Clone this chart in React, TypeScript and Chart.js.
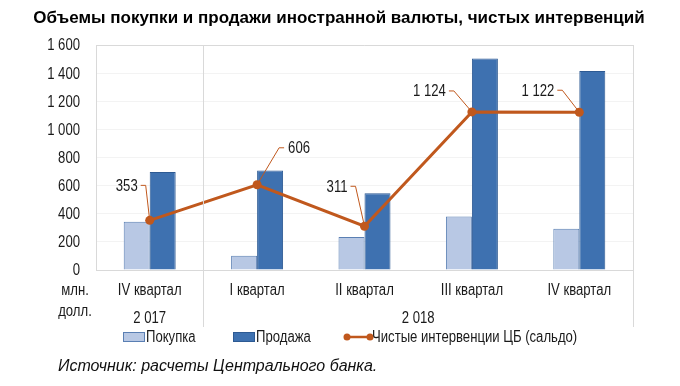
import React, { useEffect, useRef } from "react";
import { Chart, registerables } from "chart.js";

Chart.register(...registerables);

const TITLE = "Объемы покупки и продажи иностранной валюты, чистых интервенций";
const SOURCE = "Источник: расчеты Центрального банка.";
const UNIT = ["млн.", "долл."];
const categories = ["IV квартал", "I квартал", "II квартал", "III квартал", "IV квартал"];
const yearLabels = ["2 017", "2 018"];
const yearSpans = [[0, 0], [1, 4]];
const purchase = [344, 101, 234, 380, 294];
const sale = [697, 707, 545, 1504, 1416];
const net = [353, 606, 311, 1124, 1122];
const seriesNames = ["Покупка", "Продажа", "Чистые интервенции ЦБ (сальдо)"];
const yMax = 1600;
const yStep = 200;

const FONT = "'Liberation Sans', Arial, sans-serif";
const NARROW = 0.82; // horizontal squeeze imitating a narrow face
const TEXT = "#1a1a1a";
const LINE = "#c0581d";
const LIGHT = "#b8c8e4";
const LIGHT_B = "#5a7fb3";
const DARK = "#3e71b0";
const DARK_B = "#2d5a93";
const FRAME = "#d9d9d9";

const fmt = (v: number) => String(v).replace(/\B(?=(\d{3})+(?!\d))/g, " ");

function ntext(ctx: CanvasRenderingContext2D, s: string, x: number, y: number, align: CanvasTextAlign) {
  ctx.save();
  ctx.translate(x, y);
  ctx.scale(NARROW, 1);
  ctx.textAlign = align;
  ctx.textBaseline = "middle";
  ctx.fillText(s, 0, 0);
  ctx.restore();
}

// label leader geometry: elbow offset from point, text side
const labelGeo = [
  { dx: -4, dy: -35, side: "left" },
  { dx: 22, dy: -37, side: "right" },
  { dx: -9, dy: -40, side: "left" },
  { dx: -18, dy: -21, side: "left" },
  { dx: -17, dy: -22, side: "left" },
];

const decor = {
  id: "decor",
  afterDatasetsDraw(chart: any) {
    const ctx = chart.ctx;
    const meta = chart.getDatasetMeta(2);
    ctx.save();
    ctx.font = `16px ${FONT}`;
    ctx.fillStyle = TEXT;
    meta.data.forEach((pt: any, i: number) => {
      const g = labelGeo[i];
      const ex = pt.x + g.dx;
      const ey = pt.y + g.dy;
      const hx = g.side === "left" ? ex - 5 : ex + 5;
      ctx.strokeStyle = LINE;
      ctx.lineWidth = 1;
      ctx.beginPath();
      ctx.moveTo(pt.x, pt.y);
      ctx.lineTo(ex, ey);
      ctx.lineTo(hx, ey);
      ctx.stroke();
      const t = fmt(chart.data.datasets[2].data[i]);
      if (g.side === "left") ntext(ctx, t, hx - 3, ey + 1, "right");
      else ntext(ctx, t, hx + 4, ey + 1, "left");
    });
    ctx.restore();
  },
  afterDraw(chart: any) {
    const ctx = chart.ctx;
    const a = chart.chartArea;
    const xs = chart.scales.x;
    const ys = chart.scales.y;
    ctx.save();
    ctx.strokeStyle = FRAME;
    ctx.lineWidth = 1;
    const bottomExt = 327;
    ctx.beginPath();
    ctx.moveTo(a.left, a.top + 0.5);
    ctx.lineTo(a.right, a.top + 0.5);
    ctx.moveTo(Math.round(a.right) + 0.5, a.top);
    ctx.lineTo(Math.round(a.right) + 0.5, bottomExt);
    const catW = (a.right - a.left) / categories.length;
    yearSpans.forEach((s, i) => {
      if (i === 0) return;
      const x = Math.round(a.left + catW * s[0]) + 0.5;
      ctx.moveTo(x, a.top);
      ctx.lineTo(x, bottomExt);
    });
    ctx.stroke();

    // title
    ctx.fillStyle = "#000";
    ctx.font = `bold 17px ${FONT}`;
    ctx.textAlign = "center";
    ctx.textBaseline = "middle";
    ctx.fillText(TITLE, 339, 18);

    ctx.fillStyle = TEXT;
    ctx.font = `16px ${FONT}`;
    // y ticks
    ys.ticks.forEach((t: any) => {
      ntext(ctx, fmt(t.value), a.left - 16, ys.getPixelForValue(t.value) + 1, "right");
    });
    // x ticks
    categories.forEach((c, i) => {
      ntext(ctx, c, xs.getPixelForValue(i), 291, "center");
    });
    // unit
    ntext(ctx, UNIT[0], 75, 291, "center");
    ntext(ctx, UNIT[1], 75, 312, "center");
    // years
    yearSpans.forEach((s, i) => {
      const x0 = xs.getPixelForValue(s[0]);
      const x1 = xs.getPixelForValue(s[1]);
      ntext(ctx, yearLabels[i], (x0 + x1) / 2, 319, "center");
    });

    // legend
    const ly = 337;
    const items = [
      { x: 123, kind: "box", fill: LIGHT, stroke: LIGHT_B },
      { x: 233, kind: "box", fill: DARK, stroke: DARK_B },
      { x: 345, kind: "line" },
    ];
    items.forEach((it: any, i: number) => {
      if (it.kind === "box") {
        ctx.fillStyle = it.fill;
        ctx.fillRect(it.x, ly - 5, 22, 10);
        ctx.strokeStyle = it.stroke;
        ctx.lineWidth = 1;
        ctx.strokeRect(it.x + 0.5, ly - 4.5, 21, 9);
      } else {
        ctx.strokeStyle = LINE;
        ctx.lineWidth = 2.5;
        ctx.beginPath();
        ctx.moveTo(it.x, ly);
        ctx.lineTo(it.x + 27, ly);
        ctx.stroke();
        ctx.fillStyle = LINE;
        [it.x + 2, it.x + 25].forEach((cx) => {
          ctx.beginPath();
          ctx.arc(cx, ly, 3.5, 0, Math.PI * 2);
          ctx.fill();
        });
        ctx.lineWidth = 1;
      }
      ctx.fillStyle = TEXT;
      ntext(ctx, seriesNames[i], it.x + (it.kind === "box" ? 23 : 27), ly + 1, "left");
    });

    // source
    ctx.font = `italic 16px ${FONT}`;
    ctx.fillStyle = "#111";
    ctx.textAlign = "left";
    ctx.textBaseline = "middle";
    ctx.fillText(SOURCE, 58, 367);
    ctx.restore();
  },
};

export default function App() {
  const ref = useRef<HTMLCanvasElement>(null);
  useEffect(() => {
    if (!ref.current) return;
    const chart = new Chart(ref.current, {
      type: "bar",
      data: {
        labels: categories,
        datasets: [
          {
            type: "bar",
            label: seriesNames[0],
            data: purchase,
            backgroundColor: LIGHT,
            borderColor: LIGHT_B,
            borderWidth: 1,
            categoryPercentage: 0.484,
            barPercentage: 1,
            order: 2,
          },
          {
            type: "bar",
            label: seriesNames[1],
            data: sale,
            backgroundColor: DARK,
            borderColor: DARK_B,
            borderWidth: 1,
            categoryPercentage: 0.484,
            barPercentage: 1,
            order: 2,
          },
          {
            type: "line",
            label: seriesNames[2],
            data: net,
            borderColor: LINE,
            backgroundColor: LINE,
            borderWidth: 3,
            pointRadius: 4.5,
            pointBackgroundColor: LINE,
            pointBorderWidth: 0,
            tension: 0,
            order: 0,
          } as any,
        ],
      },
      options: {
        responsive: false,
        animation: false,
        layout: { padding: { left: 8, right: 47, top: 45, bottom: 56 } },
        plugins: { legend: { display: false }, title: { display: false }, tooltip: { enabled: false } },
        scales: {
          x: {
            offset: true,
            grid: { display: false, drawTicks: false },
            border: { display: true, color: FRAME, width: 1 },
            ticks: { display: false },
            afterFit: (s: any) => { s.height = 60; },
          },
          y: {
            min: 0,
            max: yMax,
            ticks: { stepSize: yStep, display: false },
            grid: { color: "#f3f3f3", drawTicks: false },
            border: { display: true, color: FRAME, width: 1 },
            afterFit: (s: any) => { s.width = 88; },
          },
        },
      },
      plugins: [decor],
    });
    return () => chart.destroy();
  }, []);
  return (
    <div style={{ position: "fixed", left: 0, top: 0, width: 680, height: 386, background: "#fff" }}>
      <canvas ref={ref} width={680} height={386} />
    </div>
  );
}
